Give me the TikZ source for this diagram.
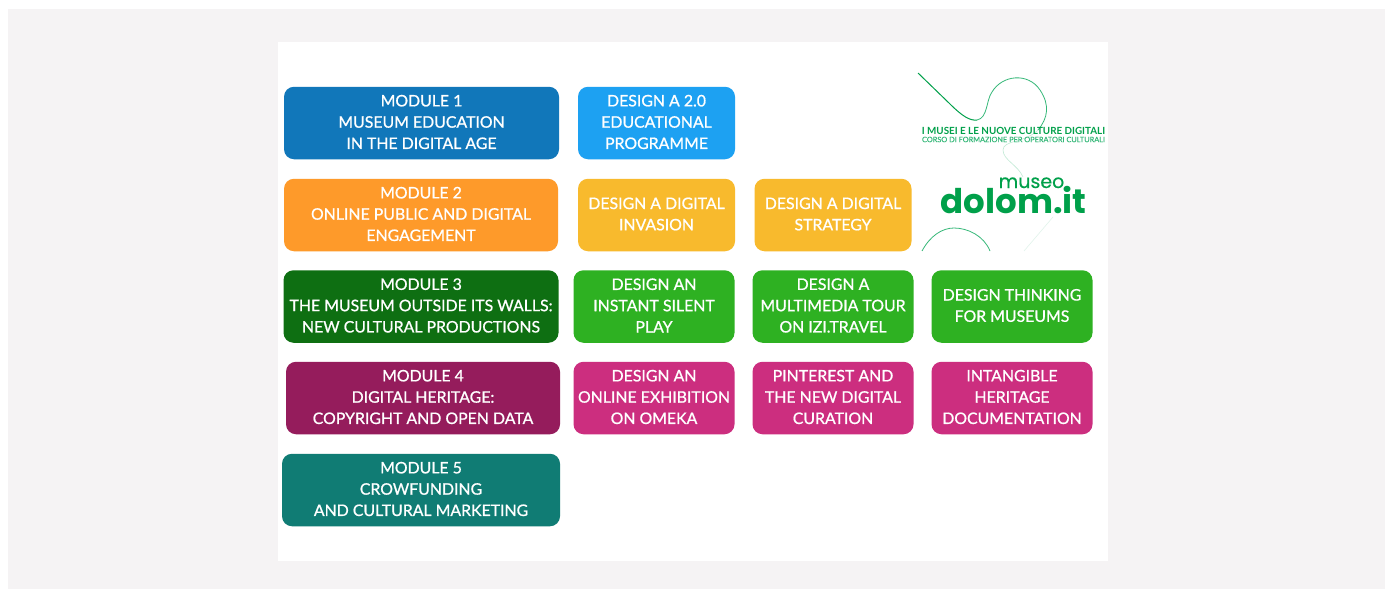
\documentclass[tikz,border=0pt]{standalone}
\usepackage{fontspec}
\setmainfont{Lato}
\newfontfamily\logofont{Poppins}
\definecolor{pagebg}{HTML}{F5F3F4}
\definecolor{cmodA}{HTML}{1177BA}
\definecolor{cdesA}{HTML}{1DA1F2}
\definecolor{cmodB}{HTML}{FE9A2A}
\definecolor{cdesB}{HTML}{F8BA2D}
\definecolor{cmodC}{HTML}{0E6F12}
\definecolor{cdesC}{HTML}{2EB122}
\definecolor{cmodD}{HTML}{951C5C}
\definecolor{cdesD}{HTML}{CC2E7F}
\definecolor{cmodE}{HTML}{107C74}
\definecolor{logogreen}{HTML}{00A04A}
\definecolor{logolight}{HTML}{35B878}
\tikzset{
  x=1pt,y=-1pt,
  card/.style={rounded corners=10pt,fill=#1,minimum height=72.5pt,inner sep=0pt},
  cardtext/.style={align=center,text=white,font=\fontsize{15.85}{21.3}\selectfont\addfontfeature{FakeBold=0.9},inner sep=0pt},
  swirl/.style={logolight,line width=0.8pt},
}
\newcommand{\cardbox}[5]{%
  \node[card=#2,minimum width=#3] (#1) at (#4) {};
  \node[cardtext] (#1t) at ([yshift=1pt]#1.center) {#5};
}
\begin{document}
\begin{tikzpicture}
\useasboundingbox (0,0) rectangle (1387,589);
\fill[pagebg] (8,9) rectangle (1385,589);
\fill[white] (278,42) rectangle (1108,561);
% logo swirl
\draw[logogreen,line width=1pt] (918,73) -- (950,104) .. controls (962,116) and (970,121) .. (977,120);
\draw[swirl] (977,120) .. controls (988,118) and (986,100) .. (992,92) .. controls (1002,75) and (1028,72) .. (1040,90) .. controls (1050,105) and (1048,118) .. (1038,130);
\draw[logolight!30,line width=0.6pt] (1038,130) .. controls (1025,143) and (1003,140) .. (1003,150) .. controls (1003,160) and (1018,165) .. (1023,177);
\draw[logolight!15,line width=0.6pt] (1053,217) -- (1024,251);
\draw[swirl] (922,251) .. controls (930,236) and (942,228) .. (954,228) .. controls (968,228) and (984,236) .. (990,251);
\cardbox{m1}{cmodA}{275pt}{421.5,123}{MODULE 1\\MUSEUM EDUCATION\\IN THE DIGITAL AGE}
\cardbox{d1}{cdesA}{157pt}{656.5,123}{DESIGN A 2.0\\EDUCATIONAL\\PROGRAMME}
\cardbox{m2}{cmodB}{274pt}{421,215}{MODULE 2\\ONLINE PUBLIC AND DIGITAL\\ENGAGEMENT}
\cardbox{d2a}{cdesB}{157pt}{656.5,215}{DESIGN A DIGITAL\\INVASION}
\cardbox{d2b}{cdesB}{157pt}{833,215}{DESIGN A DIGITAL\\STRATEGY}
\cardbox{m3}{cmodC}{275pt}{421,306.5}{MODULE 3\\THE MUSEUM OUTSIDE ITS WALLS:\\NEW CULTURAL PRODUCTIONS}
\cardbox{d3a}{cdesC}{161pt}{654,306.5}{DESIGN AN\\INSTANT SILENT\\PLAY}
\cardbox{d3b}{cdesC}{161pt}{833,306.5}{DESIGN A\\MULTIMEDIA TOUR\\ON IZI.TRAVEL}
\cardbox{d3c}{cdesC}{161pt}{1012,306.5}{DESIGN THINKING\\FOR MUSEUMS}
\cardbox{m4}{cmodD}{274pt}{423,398}{MODULE 4\\DIGITAL HERITAGE:\\COPYRIGHT AND OPEN DATA}
\cardbox{d4a}{cdesD}{161pt}{654,398}{DESIGN AN\\ONLINE EXHIBITION\\ON OMEKA}
\cardbox{d4b}{cdesD}{161pt}{833,398}{PINTEREST AND\\THE NEW DIGITAL\\CURATION}
\cardbox{d4c}{cdesD}{161pt}{1012,398}{INTANGIBLE\\HERITAGE\\DOCUMENTATION}
\cardbox{m5}{cmodE}{278pt}{421,490}{MODULE 5\\CROWFUNDING\\AND CULTURAL MARKETING}
% logo text
\node[text=logogreen,font=\fontsize{9.85}{10}\selectfont\bfseries,inner sep=0pt] (t1) at (1013.5,130.5) {I MUSEI E LE NUOVE CULTURE DIGITALI};
\node[text=logolight,font=\fontsize{7.35}{9}\selectfont\addfontfeature{FakeBold=0.3},inner sep=0pt] (t2) at (1013.5,139.5) {CORSO DI FORMAZIONE PER OPERATORI CULTURALI};
\node[text=logogreen,font=\logofont\fontsize{19}{19}\selectfont\addfontfeature{FakeBold=0.4},inner sep=0pt,anchor=base] (t3) at (1031.5,188) {museo};
\node[text=logogreen,font=\logofont\fontsize{34}{34}\selectfont\bfseries,inner sep=0pt,anchor=base] (t4) at (1013.5,213) {dolom.it};
\end{tikzpicture}
\end{document}
